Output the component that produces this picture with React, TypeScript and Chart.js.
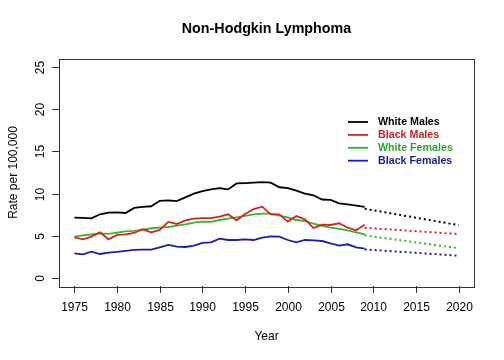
import React, { useEffect, useRef } from "react";
import { Chart, registerables } from "chart.js";

Chart.register(...registerables);

const years: number[] = [
  1975, 1976, 1977, 1978, 1979, 1980, 1981, 1982, 1983, 1984, 1985, 1986,
  1987, 1988, 1989, 1990, 1991, 1992, 1993, 1994, 1995, 1996, 1997, 1998,
  1999, 2000, 2001, 2002, 2003, 2004, 2005, 2006, 2007, 2008, 2009,
];

const whiteMales: number[] = [
  7.15, 7.12, 7.07, 7.55, 7.75, 7.78, 7.7, 8.3, 8.42, 8.5, 9.15, 9.2,
  9.1, 9.55, 10.0, 10.3, 10.5, 10.65, 10.5, 11.2, 11.25, 11.3, 11.37, 11.3,
  10.75, 10.65, 10.35, 10.0, 9.8, 9.3, 9.25, 8.85, 8.73, 8.57, 8.43,
];

const blackMales: number[] = [
  4.82, 4.58, 4.9, 5.4, 4.58, 5.1, 5.17, 5.33, 5.77, 5.41, 5.69, 6.64,
  6.4, 6.83, 7.03, 7.1, 7.1, 7.27, 7.54, 6.83, 7.58, 8.17, 8.45, 7.54,
  7.54, 6.68, 7.35, 6.95, 5.92, 6.32, 6.28, 6.48, 5.96, 5.65, 6.32,
];

const whiteFemales: number[] = [
  4.9, 5.05, 5.15, 5.29, 5.22, 5.37, 5.53, 5.57, 5.73, 5.89, 5.97, 6.04,
  6.2, 6.36, 6.56, 6.68, 6.64, 6.87, 7.03, 7.19, 7.35, 7.54, 7.62, 7.62,
  7.39, 7.19, 6.87, 6.75, 6.44, 6.16, 5.97, 5.81, 5.65, 5.41, 5.17,
];

const blackFemales: number[] = [
  2.92, 2.8, 3.12, 2.84, 3.0, 3.08, 3.2, 3.32, 3.36, 3.36, 3.63, 3.91,
  3.71, 3.67, 3.83, 4.15, 4.23, 4.66, 4.5, 4.5, 4.58, 4.5, 4.78, 4.94,
  4.9, 4.5, 4.23, 4.5, 4.46, 4.38, 4.11, 3.83, 3.99, 3.63, 3.47,
];

const projYears: number[] = [2009, 2020];
const projWhiteMales: number[] = [8.2, 6.26];
const projBlackMales: number[] = [5.95, 5.2];
const projWhiteFemales: number[] = [5.05, 3.52];
const projBlackFemales: number[] = [3.38, 2.64];

const seriesNames: string[] = ["White Males", "Black Males", "White Females", "Black Females"];
const seriesColors: string[] = ["#000000", "#dd1f1f", "#2eb82e", "#1c1cb0"];
const textColors: string[] = ["#000000", "#d21e1e", "#2aa82a", "#1a1a9e"];

const xTicks: number[] = [1975, 1980, 1985, 1990, 1995, 2000, 2005, 2010, 2015, 2020];
const yTicks: number[] = [0, 5, 10, 15, 20, 25];

const titleText = "Non-Hodgkin Lymphoma";
const xTitle = "Year";
const yTitle = "Rate per 100,000";

const FONT = "'Liberation Sans', Arial, Helvetica, sans-serif";

function pts(xs: number[], ys: number[]) {
  return xs.map((x, i) => ({ x, y: ys[i] }));
}

const decorPlugin = {
  id: "decor",
  afterDraw(chart: any) {
    const ctx: CanvasRenderingContext2D = chart.ctx;
    const xs = chart.scales.x;
    const ys = chart.scales.y;
    const area = chart.chartArea;
    ctx.save();
    ctx.strokeStyle = "#333333";
    ctx.lineWidth = 1;
    ctx.strokeRect(
      Math.round(area.left) + 0.5,
      Math.round(area.top) + 0.5,
      Math.round(area.right - area.left),
      Math.round(area.bottom - area.top)
    );
    ctx.fillStyle = "#000";
    ctx.font = `12px ${FONT}`;
    ctx.textAlign = "center";
    ctx.textBaseline = "middle";
    xTicks.forEach((t) => {
      const px = Math.round(xs.getPixelForValue(t)) + 0.5;
      ctx.beginPath();
      ctx.moveTo(px, Math.round(area.bottom));
      ctx.lineTo(px, Math.round(area.bottom) + 7);
      ctx.stroke();
      ctx.fillText(String(t), px, 308);
    });
    yTicks.forEach((t) => {
      const py = Math.round(ys.getPixelForValue(t)) + 0.5;
      ctx.beginPath();
      ctx.moveTo(Math.round(area.left), py);
      ctx.lineTo(Math.round(area.left) - 7, py);
      ctx.stroke();
      ctx.save();
      ctx.translate(41, py);
      ctx.rotate(-Math.PI / 2);
      ctx.fillText(String(t), 0, 0);
      ctx.restore();
    });
    ctx.fillText(xTitle, (area.left + area.right) / 2, 337);
    ctx.save();
    ctx.translate(14, (area.top + area.bottom) / 2);
    ctx.rotate(-Math.PI / 2);
    ctx.fillText(yTitle, 0, 0);
    ctx.restore();
    ctx.font = `bold 14.3px ${FONT}`;
    ctx.fillText(titleText, (area.left + area.right) / 2, 29);
    ctx.font = `bold 10.7px ${FONT}`;
    ctx.textAlign = "left";
    seriesNames.forEach((name, i) => {
      const y = 122 + i * 12.9;
      ctx.strokeStyle = seriesColors[i];
      ctx.lineWidth = 1.8;
      ctx.beginPath();
      ctx.moveTo(348, y);
      ctx.lineTo(368, y);
      ctx.stroke();
      ctx.fillStyle = textColors[i];
      ctx.fillText(name, 378, y + 0.5);
    });
    ctx.restore();
  },
};

export default function App() {
  const ref = useRef<HTMLCanvasElement>(null);
  useEffect(() => {
    if (!ref.current) return;
    const observed = [whiteMales, blackMales, whiteFemales, blackFemales];
    const projected = [projWhiteMales, projBlackMales, projWhiteFemales, projBlackFemales];
    const datasets: any[] = [];
    observed.forEach((vals, i) => {
      datasets.push({
        label: seriesNames[i],
        data: pts(years, vals),
        borderColor: seriesColors[i],
        borderWidth: 1.8,
        pointRadius: 0,
        tension: 0,
        fill: false,
      });
    });
    projected.forEach((vals, i) => {
      datasets.push({
        label: seriesNames[i] + " projection",
        data: pts(projYears, vals),
        borderColor: seriesColors[i],
        borderWidth: 2,
        borderDash: [2, 3],
        pointRadius: 0,
        tension: 0,
        fill: false,
      });
    });
    const chart = new Chart(ref.current, {
      type: "line",
      data: { datasets },
      options: {
        animation: false,
        responsive: false,
        maintainAspectRatio: false,
        layout: { padding: { left: 59, right: 30, top: 58.6, bottom: 73.6 } },
        scales: {
          x: { type: "linear", min: 1973.2, max: 2021.8, display: false },
          y: { type: "linear", min: -1, max: 26, display: false },
        },
        plugins: {
          legend: { display: false },
          title: { display: false },
          tooltip: { enabled: false },
        },
      },
      plugins: [decorPlugin],
    });
    return () => chart.destroy();
  }, []);
  return (
    <div style={{ position: "fixed", left: 0, top: 0, width: 504, height: 360, background: "#fff" }}>
      <canvas ref={ref} width={504} height={360} style={{ width: 504, height: 360 }} />
    </div>
  );
}
